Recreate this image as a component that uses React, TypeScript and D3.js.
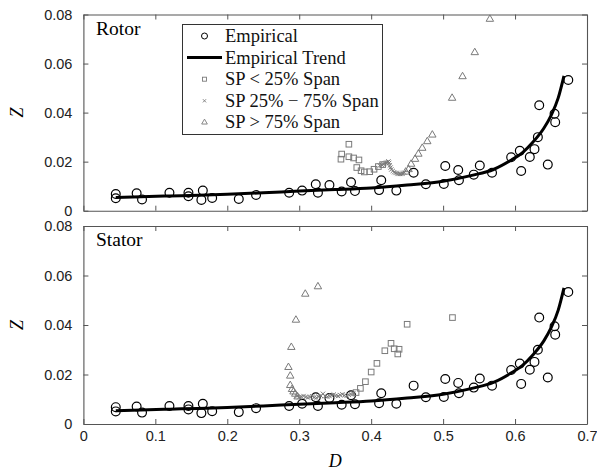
import React, { useEffect, useRef } from 'react';
import * as d3 from 'd3';

// empirical data (same in both panels)
const empD = [0.045, 0.045, 0.074, 0.0815, 0.1196, 0.146, 0.146, 0.166, 0.164, 0.179, 0.216, 0.24, 0.286, 0.304, 0.323, 0.326, 0.342, 0.359, 0.372, 0.3775, 0.411, 0.414, 0.435, 0.459, 0.476, 0.501, 0.503, 0.521, 0.522, 0.5426, 0.551, 0.568, 0.5946, 0.6066, 0.6085, 0.6205, 0.627, 0.6317, 0.6336, 0.6455, 0.6549, 0.6558, 0.674];
const empZ = [0.0068, 0.0051, 0.0071, 0.0046, 0.0073, 0.0073, 0.0059, 0.0082, 0.0044, 0.0052, 0.0048, 0.0064, 0.0073, 0.0082, 0.0108, 0.0073, 0.0105, 0.0078, 0.0116, 0.008, 0.0084, 0.0124, 0.0082, 0.0155, 0.0108, 0.0109, 0.0182, 0.0166, 0.0124, 0.0147, 0.0184, 0.0155, 0.0218, 0.0244, 0.0162, 0.0219, 0.0251, 0.03, 0.043, 0.0188, 0.0395, 0.0361, 0.0533];

// empirical trend
const trendD = [0.045, 0.08, 0.12, 0.16, 0.2, 0.25, 0.3, 0.35, 0.4, 0.45, 0.5, 0.54, 0.57, 0.595, 0.61, 0.625, 0.64, 0.65, 0.66, 0.668];
const trendZ = [0.0054, 0.0057, 0.006, 0.0063, 0.0067, 0.0073, 0.008, 0.0086, 0.0093, 0.0105, 0.012, 0.0144, 0.0168, 0.0207, 0.0236, 0.028, 0.0336, 0.0388, 0.046, 0.055];

// rotor streamline points
const rotorLowD = [0.358, 0.359, 0.369, 0.369, 0.3756, 0.383, 0.38, 0.386, 0.3905, 0.398, 0.404, 0.41, 0.416];
const rotorLowZ = [0.021, 0.0231, 0.0271, 0.022, 0.0215, 0.0207, 0.0176, 0.0163, 0.0158, 0.0159, 0.0169, 0.018, 0.0188];
const rotorMidD = [0.412, 0.415, 0.417, 0.419, 0.421, 0.423, 0.424, 0.425, 0.426, 0.427, 0.428, 0.43, 0.432, 0.434, 0.436, 0.438, 0.44, 0.442, 0.444, 0.446];
const rotorMidZ = [0.0184, 0.0187, 0.019, 0.0193, 0.0196, 0.0198, 0.0201, 0.0195, 0.0185, 0.0176, 0.0168, 0.0162, 0.0157, 0.0154, 0.0152, 0.015, 0.015, 0.015, 0.0152, 0.0155];
const rotorHighD = [0.448, 0.452, 0.4555, 0.461, 0.4656, 0.471, 0.478, 0.485, 0.5125, 0.527, 0.544, 0.565];
const rotorHighZ = [0.0158, 0.0168, 0.019, 0.021, 0.0231, 0.0255, 0.0282, 0.0309, 0.0459, 0.0547, 0.0645, 0.0781];

// stator streamline points
const statorLowD = [0.379, 0.385, 0.392, 0.4, 0.408, 0.419, 0.4276, 0.432, 0.437, 0.4388, 0.45, 0.513];
const statorLowZ = [0.0127, 0.0144, 0.0171, 0.021, 0.0245, 0.0296, 0.0326, 0.0304, 0.0283, 0.0302, 0.0403, 0.043];
const statorMidD = [0.297, 0.3, 0.303, 0.306, 0.309, 0.312, 0.315, 0.318, 0.321, 0.324, 0.327, 0.33, 0.333, 0.336, 0.339, 0.342, 0.345, 0.348, 0.351, 0.354, 0.357, 0.36, 0.363, 0.366, 0.369, 0.372, 0.375];
const statorMidZ = [0.0112, 0.0108, 0.011, 0.0113, 0.0109, 0.0107, 0.011, 0.0112, 0.0108, 0.0106, 0.0111, 0.0114, 0.0122, 0.0112, 0.011, 0.0113, 0.0116, 0.0119, 0.0115, 0.0113, 0.0117, 0.012, 0.0116, 0.0114, 0.0118, 0.012, 0.0123];
const statorHighD = [0.326, 0.3084, 0.2954, 0.289, 0.285, 0.2875, 0.2875, 0.29, 0.292, 0.2945, 0.2977];
const statorHighZ = [0.0555, 0.0525, 0.042, 0.031, 0.0229, 0.0194, 0.0156, 0.014, 0.013, 0.0121, 0.011];

const legendLabels = ['Empirical', 'Empirical Trend', 'SP < 25% Span', 'SP 25% \u2212 75% Span', 'SP > 75% Span'];
const xTicks = [0, 0.1, 0.2, 0.3, 0.4, 0.5, 0.6, 0.7];
const yTicks = [0, 0.02, 0.04, 0.06, 0.08];

const W = 597;
const H = 474;
const serif = '"Liberation Serif", "DejaVu Serif", serif';
const sans = '"Liberation Sans", Arial, sans-serif';
const gray = '#7a7a7a';

const App = () => {
  const ref = useRef(null);

  useEffect(() => {
    document.body.style.margin = '0';
    const svg = d3.select(ref.current);
    svg.selectAll('*').remove();

    const x = d3.scaleLinear().domain([0, 0.7]).range([83.4, 587]);

    const panels = [
      { name: 'Rotor', top: 14.5, bottom: 210.7, low: [rotorLowD, rotorLowZ], mid: [rotorMidD, rotorMidZ], high: [rotorHighD, rotorHighZ], legend: true, xlabels: false },
      { name: 'Stator', top: 226, bottom: 424, low: [statorLowD, statorLowZ], mid: [statorMidD, statorMidZ], high: [statorHighD, statorHighZ], legend: false, xlabels: true },
    ];

    const tri = d3.symbol().type(d3.symbolTriangle).size(24);
    const cross = d3.symbol().type(d3.symbolX).size(14);

    panels.forEach((p) => {
      const y = d3.scaleLinear().domain([0, 0.08]).range([p.bottom, p.top]);
      const g = svg.append('g');

      g.append('rect')
        .attr('x', x(0)).attr('y', p.top)
        .attr('width', x(0.7) - x(0)).attr('height', p.bottom - p.top)
        .attr('fill', '#fff');

      // axes, ticks inward on every side
      const axes = [
        { ax: d3.axisBottom(x).tickValues(xTicks).tickSize(-5).tickSizeOuter(0).tickPadding(7)
            .tickFormat(p.xlabels ? ((d) => (d === 0 ? '0' : d3.format('.1f')(d))) : () => ''), t: `translate(0,${p.bottom})` },
        { ax: d3.axisTop(x).tickValues(xTicks).tickSize(-5).tickSizeOuter(0).tickFormat(() => ''), t: `translate(0,${p.top})` },
        { ax: d3.axisLeft(y).tickValues(yTicks).tickSize(-5).tickSizeOuter(0).tickPadding(11)
            .tickFormat((d) => (d === 0 ? '0' : d3.format('.2f')(d))), t: `translate(${x(0)},0)` },
        { ax: d3.axisRight(y).tickValues(yTicks).tickSize(-5).tickSizeOuter(0).tickFormat(() => ''), t: `translate(${x(0.7)},0)` },
      ];
      axes.forEach(({ ax, t }) => {
        const a = g.append('g').attr('transform', t).call(ax);
        a.select('.domain').attr('stroke', '#555').attr('stroke-width', 1.1);
        a.selectAll('line').attr('stroke', '#555');
        a.selectAll('text').attr('font-family', sans).attr('font-size', 14.5).attr('fill', '#222');
      });

      // empirical circles
      g.append('g').selectAll('circle').data(empD).join('circle')
        .attr('cx', (d) => x(d)).attr('cy', (d, i) => y(empZ[i]))
        .attr('r', 4.4).attr('fill', 'none').attr('stroke', '#000').attr('stroke-width', 1.2);

      // trend line
      const line = d3.line().x((d) => x(d[0])).y((d) => y(d[1])).curve(d3.curveMonotoneX);
      g.append('path')
        .attr('d', line(trendD.map((d, i) => [d, trendZ[i]])))
        .attr('fill', 'none').attr('stroke', '#000').attr('stroke-width', 3);

      // streamline points
      g.append('g').selectAll('rect').data(p.low[0]).join('rect')
        .attr('x', (d) => x(d) - 2.8).attr('y', (d, i) => y(p.low[1][i]) - 2.8)
        .attr('width', 5.6).attr('height', 5.6)
        .attr('fill', 'none').attr('stroke', gray).attr('stroke-width', 1);
      g.append('g').selectAll('path').data(p.mid[0]).join('path')
        .attr('transform', (d, i) => `translate(${x(d)},${y(p.mid[1][i])})`)
        .attr('d', cross).attr('fill', 'none').attr('stroke', gray).attr('stroke-width', 1);
      g.append('g').selectAll('path').data(p.high[0]).join('path')
        .attr('transform', (d, i) => `translate(${x(d)},${y(p.high[1][i])})`)
        .attr('d', tri).attr('fill', 'none').attr('stroke', gray).attr('stroke-width', 1);

      g.append('text')
        .attr('x', 96).attr('y', p.top + 20)
        .attr('font-family', serif).attr('font-size', 19.5)
        .text(p.name);

      g.append('text')
        .attr('transform', `translate(${23},${(p.top + p.bottom) / 2}) rotate(-90)`)
        .attr('text-anchor', 'middle')
        .attr('font-family', serif).attr('font-style', 'italic').attr('font-size', 18)
        .text('Z');

      if (p.legend) {
        const lg = g.append('g');
        lg.append('rect')
          .attr('x', 182.5).attr('y', 24.5).attr('width', 200).attr('height', 110)
          .attr('fill', '#fff').attr('stroke', '#333').attr('stroke-width', 1);
        legendLabels.forEach((lab, i) => {
          const cy = 36 + i * 21.6;
          const mx = 204.5;
          if (i === 0) {
            lg.append('circle').attr('cx', mx).attr('cy', cy).attr('r', 3)
              .attr('fill', 'none').attr('stroke', '#000').attr('stroke-width', 1);
          } else if (i === 1) {
            lg.append('line').attr('x1', 187).attr('x2', 222).attr('y1', cy).attr('y2', cy)
              .attr('stroke', '#000').attr('stroke-width', 3);
          } else if (i === 2) {
            lg.append('rect').attr('x', mx - 2).attr('y', cy - 2).attr('width', 4).attr('height', 4)
              .attr('fill', 'none').attr('stroke', gray).attr('stroke-width', 0.9);
          } else if (i === 3) {
            lg.append('path').attr('transform', `translate(${mx},${cy})`)
              .attr('d', d3.symbol().type(d3.symbolX).size(8)).attr('stroke', gray).attr('stroke-width', 0.9);
          } else {
            lg.append('path').attr('transform', `translate(${mx},${cy})`)
              .attr('d', d3.symbol().type(d3.symbolTriangle).size(14)).attr('fill', 'none')
              .attr('stroke', gray).attr('stroke-width', 0.9);
          }
          lg.append('text').attr('x', 225).attr('y', cy + 6)
            .attr('font-family', serif).attr('font-size', 18.5).attr('fill', '#111')
            .text(lab);
        });
      }
    });

    svg.append('text')
      .attr('x', x(0.35)).attr('y', 467)
      .attr('text-anchor', 'middle')
      .attr('font-family', serif).attr('font-style', 'italic').attr('font-size', 18)
      .text('D');
  }, []);

  return (
    <div>
      <svg ref={ref} width={W} height={H} style={{ display: 'block', background: '#fff' }}></svg>
    </div>
  );
};

export default App;
